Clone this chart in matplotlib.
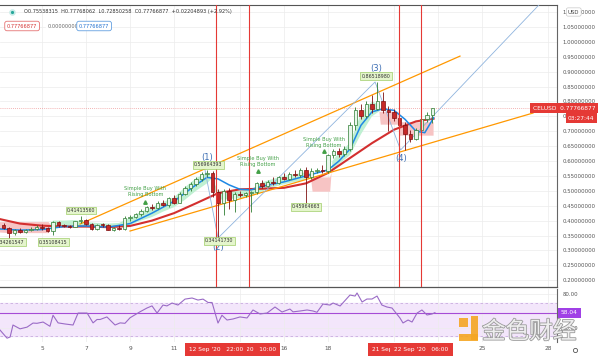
import numpy as np
import matplotlib.pyplot as plt
import matplotlib.patheffects as pe
import matplotlib.transforms as mtransforms
from matplotlib.patches import Rectangle
from matplotlib.lines import Line2D
from matplotlib.ticker import FormatStrFormatter

plt.rcParams['font.family'] = ['DejaVu Sans']

# ---------------- data (x = day of September 2020) ----------------
candle_days = np.arange(3.25, 22.76, 0.25)  # 6h candles
opens = [0.385, 0.375, 0.358, 0.368, 0.362, 0.370, 0.372, 0.378, 0.375, 0.365,
         0.396, 0.384, 0.381, 0.379, 0.397, 0.401, 0.388, 0.372, 0.386, 0.384,
         0.370, 0.375, 0.372, 0.408, 0.413, 0.421, 0.432, 0.446, 0.441, 0.460,
         0.452, 0.475, 0.460, 0.490, 0.510, 0.522, 0.540, 0.556, 0.560, 0.495,
         0.460, 0.500, 0.470, 0.490, 0.485, 0.491, 0.495, 0.525, 0.515, 0.530,
         0.525, 0.545, 0.540, 0.556, 0.552, 0.570, 0.545, 0.565, 0.570, 0.565,
         0.620, 0.635, 0.625, 0.640, 0.720, 0.770, 0.750, 0.790, 0.775, 0.800,
         0.770, 0.765, 0.745, 0.720, 0.690, 0.675, 0.705, 0.740, 0.75538315]
highs = [0.392, 0.378, 0.372, 0.375, 0.372, 0.380, 0.385, 0.388, 0.380, 0.400,
         0.400, 0.390, 0.386, 0.400, 0.414, 0.405, 0.392, 0.390, 0.392, 0.388,
         0.378, 0.385, 0.415, 0.418, 0.425, 0.438, 0.450, 0.455, 0.465, 0.470,
         0.480, 0.485, 0.495, 0.515, 0.528, 0.545, 0.562, 0.5696, 0.565, 0.505,
         0.505, 0.510, 0.495, 0.500, 0.495, 0.500, 0.530, 0.535, 0.535, 0.545,
         0.550, 0.560, 0.562, 0.570, 0.575, 0.580, 0.575, 0.578, 0.585, 0.625,
         0.640, 0.642, 0.650, 0.730, 0.780, 0.790, 0.800, 0.820, 0.865, 0.830,
         0.785, 0.775, 0.760, 0.730, 0.705, 0.710, 0.745, 0.765, 0.77768062]
lows = [0.372, 0.3426, 0.352, 0.360, 0.358, 0.365, 0.368, 0.370, 0.362, 0.351,
        0.380, 0.378, 0.376, 0.377, 0.393, 0.385, 0.368, 0.370, 0.380, 0.368,
        0.365, 0.370, 0.370, 0.400, 0.408, 0.415, 0.428, 0.437, 0.438, 0.448,
        0.446, 0.455, 0.458, 0.485, 0.500, 0.515, 0.533, 0.548, 0.480, 0.3414,
        0.420, 0.440, 0.430, 0.478, 0.478, 0.430, 0.490, 0.510, 0.512, 0.520,
        0.522, 0.535, 0.535, 0.548, 0.548, 0.4596, 0.540, 0.560, 0.560, 0.560,
        0.610, 0.615, 0.618, 0.635, 0.705, 0.740, 0.745, 0.760, 0.770, 0.760,
        0.700, 0.735, 0.710, 0.637, 0.665, 0.670, 0.700, 0.730, 0.72850258]
closes = [0.375, 0.358, 0.368, 0.362, 0.370, 0.372, 0.378, 0.375, 0.365, 0.396,
          0.384, 0.381, 0.379, 0.397, 0.401, 0.388, 0.372, 0.386, 0.384, 0.370,
          0.375, 0.372, 0.408, 0.413, 0.421, 0.432, 0.446, 0.441, 0.460, 0.452,
          0.475, 0.460, 0.490, 0.510, 0.522, 0.540, 0.556, 0.560, 0.495, 0.460,
          0.500, 0.470, 0.490, 0.485, 0.491, 0.495, 0.525, 0.515, 0.530, 0.525,
          0.545, 0.540, 0.556, 0.552, 0.570, 0.545, 0.565, 0.570, 0.565, 0.620,
          0.635, 0.625, 0.640, 0.720, 0.770, 0.750, 0.790, 0.775, 0.800, 0.770,
          0.765, 0.745, 0.720, 0.690, 0.675, 0.705, 0.740, 0.75538315, 0.77766877]

# slow (red) and fast (blue) moving averages
slow_days = [3.09, 4, 5, 6, 7, 8, 9, 10, 11, 12, 13, 14, 15, 16, 17, 18, 19, 20, 21, 22, 22.8]
slow_vals = [0.405, 0.390, 0.383, 0.380, 0.380, 0.378, 0.382, 0.400, 0.425, 0.458, 0.492,
             0.505, 0.507, 0.510, 0.525, 0.560, 0.610, 0.660, 0.705, 0.733, 0.742]
fast_days = [3.09, 4, 5, 6, 7, 8, 9, 10, 11, 12, 12.5, 13, 13.5, 14, 14.5, 15, 16, 17,
             18, 18.5, 19, 19.5, 20, 20.5, 21, 21.5, 22, 22.4, 22.8]
fast_vals = [0.372, 0.368, 0.370, 0.380, 0.382, 0.378, 0.390, 0.425, 0.465, 0.520, 0.545,
             0.540, 0.520, 0.505, 0.503, 0.515, 0.530, 0.550, 0.570, 0.600, 0.640, 0.720,
             0.765, 0.775, 0.770, 0.740, 0.700, 0.695, 0.745]

# trend cloud: green where edge_a >= edge_b, red where below
cloud_days = [3.09, 3.5, 4, 4.5, 5, 5.3, 5.4, 5.5, 6, 6.5, 7, 7.5, 8, 8.5, 9, 9.5, 10,
              10.5, 11, 11.5, 12, 12.5, 12.7, 13, 13.5, 14, 14.5, 15, 15.5, 16, 16.5,
              17, 17.2, 17.3, 18.1, 18.2, 18.5, 19, 19.5, 20, 20.3, 20.4, 21.2, 21.25,
              22, 22.5, 22.8]
cloud_a = [0.360, 0.358, 0.358, 0.358, 0.358, 0.358, 0.392, 0.400, 0.400, 0.402, 0.395,
           0.392, 0.390, 0.392, 0.410, 0.430, 0.445, 0.462, 0.478, 0.512, 0.542, 0.562,
           0.545, 0.500, 0.500, 0.500, 0.505, 0.528, 0.540, 0.550, 0.556, 0.562, 0.560,
           0.497, 0.497, 0.600, 0.628, 0.660, 0.760, 0.800, 0.790, 0.722, 0.722, 0.685,
           0.685, 0.685, 0.685]
cloud_b = [0.395, 0.395, 0.395, 0.395, 0.395, 0.395, 0.385, 0.382, 0.380, 0.380, 0.380,
           0.379, 0.378, 0.378, 0.385, 0.400, 0.412, 0.430, 0.445, 0.470, 0.500, 0.525,
           0.540, 0.470, 0.472, 0.476, 0.480, 0.498, 0.512, 0.522, 0.530, 0.538, 0.540,
           0.545, 0.545, 0.570, 0.590, 0.620, 0.690, 0.750, 0.765, 0.765, 0.765, 0.730,
           0.730, 0.730, 0.730]

# drawn trend channel and Elliott wave path
upper_chan_days, upper_chan_px = [6.73, 24.0], [0.3886, 0.952]
lower_chan_days, lower_chan_px = [9.0, 27.32], [0.365, 0.761]
wave_days = [12.41, 13.0, 20.14, 21.3, 27.8]
wave_px = [0.5696, 0.3414, 0.8652, 0.637, 1.14]
marker_days = [12.917, 14.417, 21.25, 22.25]

rsi_days = [3.09, 3.41, 3.55, 3.68, 4.0, 4.32, 4.59, 4.77, 5.05, 5.36, 5.5, 5.73, 6.05,
            6.41, 6.64, 7.05, 7.32, 7.5, 7.64, 7.95, 8.32, 8.55, 8.77, 9.0, 9.45, 9.77,
            10.0, 10.23, 10.5, 10.68, 10.91, 11.18, 11.5, 11.82, 12.09, 12.32, 12.55,
            12.73, 13.0, 13.18, 13.41, 13.68, 14.0, 14.32, 14.59, 14.91, 15.23, 15.59,
            15.91, 16.27, 16.41, 16.73, 17.05, 17.32, 17.5, 17.77, 18.09, 18.23, 18.55,
            19.0, 19.23, 19.32, 19.55, 19.77, 20.0, 20.23, 20.45, 20.68, 20.91, 21.27,
            21.41, 21.64, 21.82, 22.05, 22.27, 22.5, 22.73, 22.86]
rsi_vals = [37.6, 28.0, 29.4, 43.5, 39.0, 41.0, 45.8, 45.5, 47.0, 42.0, 55.0, 46.0, 44.7,
            43.5, 57.6, 57.6, 46.0, 50.0, 50.0, 53.0, 43.5, 46.0, 45.5, 52.0, 59.0, 63.5,
            66.0, 57.6, 67.0, 66.0, 69.4, 67.0, 74.0, 75.3, 72.9, 74.0, 70.0, 70.0, 45.8,
            55.0, 49.4, 50.6, 53.0, 51.8, 61.2, 56.5, 57.6, 64.7, 58.8, 62.3, 59.0, 60.0,
            61.2, 60.0, 58.5, 68.2, 67.0, 69.4, 65.9, 78.8, 77.6, 81.2, 70.6, 74.1, 74.1,
            77.6, 67.0, 64.7, 63.5, 51.8, 45.9, 49.4, 47.0, 57.6, 61.2, 55.3, 56.5, 58.04]

grid_days = [5, 7, 9, 11, 14, 16, 18, 21, 23, 25, 28]
tick_days = [5, 7, 9, 11, 16, 18, 25, 28]
last_price = 0.77766877
last_rsi = 58.04

# ---------------- figure ----------------
W, H = 600, 356
fig = plt.figure(figsize=(6, 3.56), dpi=100)
fx = lambda x: x / W
fy = lambda y: 1 - y / H

ax = fig.add_axes([0, fy(287), fx(557), (287 - 5) / H])
axr = fig.add_axes([0, fy(342), fx(557), (342 - 289) / H], sharex=ax)

for a in (ax, axr):
    a.set_xlim(3.09, 28.41)
    for s in ('left', 'bottom', 'top'):
        a.spines[s].set_visible(False)
    a.spines['right'].set_color('#666666')
    a.spines['right'].set_linewidth(0.8)
    a.yaxis.tick_right()
    a.tick_params(axis='y', length=0, pad=4, labelsize=3.9, labelcolor='#555555')
    a.set_xticks(grid_days)
    a.grid(True, color='#ececec', linewidth=0.5, zorder=0)
    a.set_axisbelow(True)
ax.spines['top'].set_visible(True)
ax.spines['top'].set_color('#555555')
ax.spines['bottom'].set_visible(True)
ax.spines['bottom'].set_color('#555555')
ax.spines['bottom'].set_linewidth(0.9)
ax.tick_params(axis='x', length=0, labelbottom=False)

# main price panel
ax.set_ylim(0.1772, 1.1235)
ax.set_yticks(np.arange(0.2, 1.1001, 0.05))
ax.yaxis.set_major_formatter(FormatStrFormatter('%.8f'))

a_arr, b_arr = np.array(cloud_a), np.array(cloud_b)
ax.fill_between(cloud_days, a_arr, b_arr, where=a_arr >= b_arr, interpolate=True,
                color='#bff0d2', lw=0, zorder=1)
ax.fill_between(cloud_days, a_arr, b_arr, where=a_arr < b_arr, interpolate=True,
                color='#f7c4c4', lw=0, zorder=1)

ax.plot(slow_days, slow_vals, color='#d32f2f', lw=1.5, zorder=3)
ax.plot(fast_days, fast_vals, color='#1e88e5', lw=1.1, zorder=3)

o, h, l, c = map(np.array, (opens, highs, lows, closes))
up = c >= o
face = np.where(up, '#e8f7ec', '#c62828')
edge = np.where(up, '#2e7d32', '#7f1010')
ax.vlines(candle_days, l, h, colors=edge, lw=0.6, zorder=4)
ax.bar(candle_days, np.maximum(np.abs(c - o), 0.003), bottom=np.minimum(o, c),
       width=0.15, color=face, edgecolor=edge, linewidth=0.5, zorder=5)

ax.plot(upper_chan_days, upper_chan_px, color='#ff9800', lw=0.9, zorder=3)
ax.plot(lower_chan_days, lower_chan_px, color='#ff9800', lw=0.9, zorder=3)
ax.plot(wave_days, wave_px, color='#8fb4de', lw=0.6, zorder=3)

for d in marker_days:
    ax.axvline(d, color='#e53935', lw=0.8, zorder=6)
ax.axhline(last_price, color='#ef9a9a', lw=0.6, ls=(0, (1, 1.5)), zorder=2)

# wave labels
for d, p, t in [(12.5, 0.613, '(1)'), (13.0, 0.309, '(2)'),
                (20.18, 0.912, '(3)'), (21.32, 0.61, '(4)')]:
    ax.text(d, p, t, color='#3b6db3', fontsize=6, ha='center', va='center', zorder=7)

# price callouts
for d, p, t in [(3.55, 0.328, '0.34261547'), (5.5, 0.328, '0.35108415'),
                (6.77, 0.433, '0.41413560'), (12.55, 0.587, '0.56964393'),
                (13.05, 0.332, '0.34141730'), (17.0, 0.446, '0.45964663'),
                (20.18, 0.885, '0.86518980')]:
    ax.text(d, p, t, fontsize=3.4, ha='center', va='center', color='#333333', zorder=8,
            bbox=dict(boxstyle='square,pad=0.25', fc='#e4f5cc', ec='#8bc34a', lw=0.4))

# signal annotations
for d, p1, p2, pt in [(9.7, 0.509, 0.488, 0.463), (14.82, 0.610, 0.589, 0.566),
                      (17.82, 0.671, 0.651, 0.634)]:
    ax.text(d, p1, 'Simple Buy With', fontsize=3.6, color='#43a047', ha='center', va='center', zorder=7)
    ax.text(d, p2, 'Rising Bottom', fontsize=3.6, color='#43a047', ha='center', va='center', zorder=7)
    ax.plot([d], [pt], marker='^', ms=2.5, color='#43a047', zorder=7)

# RSI panel
axr.set_ylim(23.5, 85.9)
axr.set_yticks([40, 80])
axr.yaxis.set_major_formatter(FormatStrFormatter('%.2f'))
axr.axhspan(30, 70, color='#f3e6fb', zorder=0.5)
axr.axhline(70, color='#c9acdf', lw=0.6, ls=(0, (3, 3)))
axr.axhline(30, color='#c9acdf', lw=0.6, ls=(0, (3, 3)))
axr.axhline(last_rsi, color='#a64bd6', lw=0.8, zorder=2)
axr.plot(rsi_days, rsi_vals, color='#9a6bc6', lw=0.8, zorder=3)
axr.set_xticklabels([str(d) if d in tick_days else '' for d in grid_days])
axr.tick_params(axis='x', length=0, pad=3, labelsize=4.2, labelcolor='#555555')

# crosshair date tags under the axis
tr = mtransforms.blended_transform_factory(axr.transData, axr.transAxes)
for d, t in [(14.417, "14 Sep '20   10:00"), (12.917, "12 Sep '20   22:00"),
             (21.25, "21 Sep '20   06:00"), (22.25, "22 Sep '20   06:00")]:
    axr.text(d, -0.15, t, transform=tr, fontsize=4.2, color='white', ha='center',
             va='center', clip_on=False, zorder=10,
             bbox=dict(boxstyle='square,pad=0.7', fc='#e53935', ec='none'))

# right-axis tags
fig.text(fx(533), fy(108), 'CELUSD  0.77766877', fontsize=4.2, color='white',
         ha='left', va='center', bbox=dict(boxstyle='square,pad=0.45', fc='#e53935', ec='none'))
fig.text(fx(568), fy(118), '03:27:44', fontsize=4.2, color='white', ha='left', va='center',
         bbox=dict(boxstyle='square,pad=0.4', fc='#e53935', ec='none'))
fig.text(fx(568), fy(12), 'USD', fontsize=3.9, color='#444444', ha='left', va='center',
         bbox=dict(boxstyle='round,pad=0.3', fc='white', ec='#bbbbbb', lw=0.4))
fig.text(fx(561), fy(313), '58.04', fontsize=4.2, color='white', ha='left', va='center',
         bbox=dict(boxstyle='square,pad=0.45', fc='#a040e6', ec='none'))

# header
fig.add_artist(Line2D([fx(12)], [fy(12)], marker='o', ms=3.5, color='#26a69a',
                      markeredgecolor='#c8ece8', markeredgewidth=1.2))
fig.text(fx(24), fy(12), 'O0.75538315  H0.77768062  L0.72850258  C0.77766877  +0.02204893 (+2.92%)',
         fontsize=3.6, color='#333333', ha='left', va='center')
for x0, t, ec in [(7, '0.77766877', '#e57373'), (48, '0.00000000', 'none'), (79, '0.77766877', '#64a0e0')]:
    fig.text(fx(x0), fy(26), t, fontsize=3.6, color='#d32f2f' if ec == '#e57373' else
             ('#1e6fd0' if ec == '#64a0e0' else '#666666'), ha='left', va='center',
             bbox=dict(boxstyle='round,pad=0.45', fc='white', ec=ec, lw=0.6))

# watermark
for x, y, w, h in [(459, 318, 9, 9), (471, 316, 7, 24), (459, 334, 19, 7)]:
    fig.add_artist(Rectangle((fx(x), fy(y + h)), w / W, h / H, transform=fig.transFigure,
                             fc='#f5a623', ec='none', alpha=0.9))
fig.text(fx(482), fy(332), '金色财经', family=['Noto Sans CJK SC', 'DejaVu Sans'], fontsize=17,
         color='#eeeeee', ha='left', va='center',
         path_effects=[pe.withStroke(linewidth=1.2, foreground='#9a9a9a')])
fig.add_artist(Line2D([fx(575)], [fy(350)], marker='o', ms=3, mfc='none', mec='#555555', mew=0.6))

fig.savefig('out.png', dpi=100)
